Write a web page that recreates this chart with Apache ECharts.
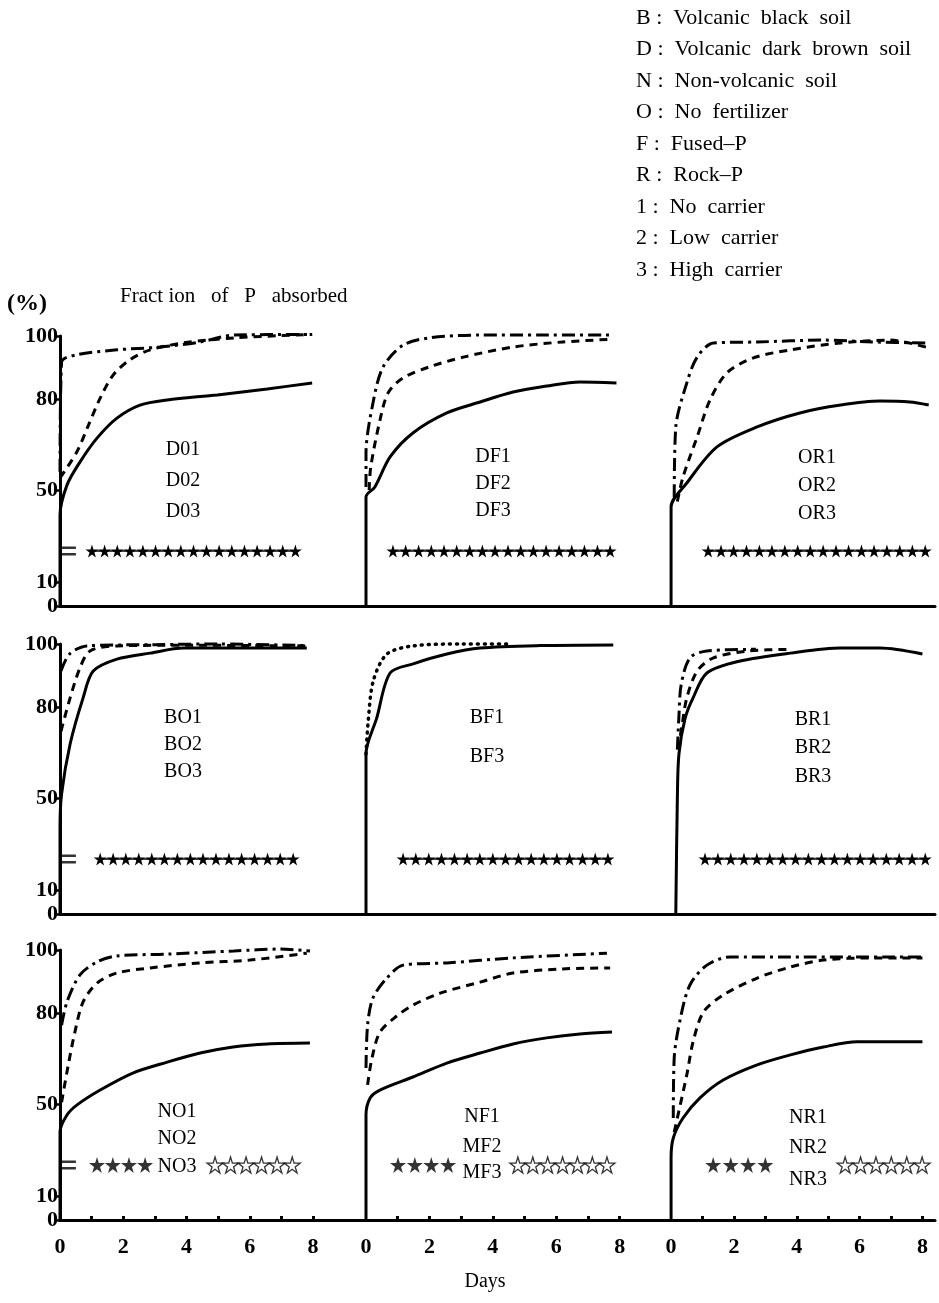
<!DOCTYPE html>
<html>
<head>
<meta charset="utf-8">
<script src="https://cdn.jsdelivr.net/npm/echarts@6/dist/echarts.min.js"></script>
<style>
  html, body { margin: 0; background: #fff; }
  #chart { width: 939px; height: 1303px; }
</style>
</head>
<body>
<div id="chart"></div>
<script>
// y axis is broken between 10 and 50: percent -> axis units (piecewise)
const yTickLabels = [0, 10, 50, 80, 100]
const yTickUnits = [0, 24, 116, 207, 270]
const xTickLabels = [0, 2, 4, 6, 8]
const xTickDays = [1, 2, 3, 4, 5, 6, 7, 8]
const starLevel = 23.5

// [day, % absorbed]
const DO1 = [[0, 0], [0, 39], [0.22, 51.6], [0.63, 59.2], [1.17, 67.1], [1.8, 73.7], [2.53, 78], [3.39, 79.7], [4.97, 81.3], [6.55, 83.2], [7.97, 85.1]]
const DO2 = [[0, 54], [0.53, 62.5], [0.9, 71.4], [1.27, 80.3], [1.68, 87.6], [2.2, 92.4], [2.85, 95.6], [3.9, 97.8], [5.5, 99.4], [7.97, 100.5]]
const DO3 = [[0, 56], [0.05, 91.7], [0.5, 94], [1.8, 95.6], [3.16, 96.5], [4.43, 98.1], [5.5, 100.3], [7.97, 100.5]]

const DF1 = [[0, 0], [0, 47], [0.28, 51], [0.76, 60.9], [1.48, 68.8], [2.55, 75.4], [3.6, 79], [4.64, 82.2], [5.7, 84.1], [6.75, 85.4], [7.9, 85.1]]
const DF2 = [[0.1, 50], [0.15, 57.6], [0.44, 73], [0.7, 82], [1.17, 86.7], [2.0, 90.2], [3.07, 93.3], [4.64, 96.5], [6.2, 98.1], [7.8, 99]]
const DF3 = [[0, 51], [0, 62], [0.22, 78.7], [0.54, 90.2], [1.17, 97.1], [2.0, 99.4], [3.6, 100.3], [5.5, 100.3], [7.8, 100.3]]

const OR1 = [[0, 0], [0, 42.6], [0.5, 52.3], [1.46, 64.2], [2.74, 70.8], [4.1, 75.4], [5.4, 78], [6.65, 79.3], [7.6, 79], [8.2, 78]]
const OR2 = [[0.2, 45], [0.38, 54.3], [0.83, 67.5], [1.24, 79.7], [1.78, 88.3], [2.6, 93], [3.8, 95.6], [5.4, 97.8], [6.97, 98.7], [8.2, 96.2]]
const OR3 = [[0.1, 47], [0.15, 70.8], [0.5, 85.1], [0.83, 93.3], [1.35, 97.8], [2.74, 98.1], [4.85, 98.7], [6.4, 98.1], [8.2, 97.8]]

const BO1 = [[0, 0], [0, 37], [0.05, 51.3], [0.32, 67.8], [0.73, 82.9], [1.05, 91.4], [1.8, 95.2], [2.85, 97.1], [3.9, 98.7], [7.8, 98.7]]
const BO2 = [[0.03, 72], [0.32, 82.9], [0.63, 92.4], [0.95, 97.8], [1.8, 99.4], [4, 99.6], [7.8, 99.4]]
const BO3 = [[0.03, 91.4], [0.3, 96.8], [0.85, 99.4], [3, 99.8], [5, 100], [7.8, 99.5]]

const BF1 = [[0, 0], [0, 64.5], [0.34, 76.4], [0.76, 90.8], [1.49, 93.7], [2.55, 96.8], [3.6, 98.7], [5.5, 99.5], [7.8, 99.7]]
const BF3 = [[0, 64.5], [0.07, 75.4], [0.23, 88.3], [0.66, 96.8], [1.49, 99.4], [3.07, 100], [4.5, 100]]

const BR1 = [[0.15, 0], [0.2, 50], [0.25, 64.5], [0.45, 76.4], [0.7, 82.9], [1.14, 90.8], [2.2, 94.6], [3.8, 97.1], [5.4, 98.7], [6.65, 98.7], [8.0, 96.8]]
const BR2 = [[0.22, 66], [0.35, 74], [0.5, 82.9], [0.83, 91.4], [1.35, 95.6], [2.5, 97.8], [3.8, 98.3]]
const BR3 = [[0.2, 66], [0.25, 77], [0.32, 87], [0.6, 95.6], [1.14, 97.8], [2.7, 98.3]]

const NO1 = [[0, 0], [0, 37.8], [0.22, 45.2], [0.54, 49.6], [1.27, 54.6], [2.3, 60.2], [3.39, 63.8], [4.43, 66.8], [5.47, 68.8], [6.55, 69.8], [7.9, 70.1]]
const NO2 = [[0.05, 50.6], [0.26, 62.8], [0.47, 73.7], [0.73, 83.5], [1.17, 89.5], [1.8, 92.7], [2.85, 94.3], [4.43, 95.9], [6.0, 96.8], [7.8, 99]]
const NO3 = [[0.05, 76], [0.22, 83.5], [0.63, 92.1], [1.17, 96.2], [1.8, 98.1], [3.4, 98.7], [5.5, 99.7], [6.97, 100.3], [7.9, 99.7]]

const NF1 = [[0, 0], [0, 45.2], [0.13, 52], [0.44, 54.6], [1.48, 58.9], [2.55, 63.5], [3.6, 66.8], [4.64, 69.8], [5.7, 71.8], [6.75, 73.1], [7.76, 73.7]]
const NF2 = [[0.05, 56.3], [0.19, 65.2], [0.44, 73.7], [0.97, 79], [1.48, 82.5], [2.34, 86.3], [3.6, 89.8], [4.64, 92.7], [6.2, 94], [7.7, 94.3]]
const NF3 = [[0, 61.9], [0.05, 76], [0.22, 84.8], [0.66, 91.1], [1.17, 95.2], [2.55, 95.9], [4.64, 97.5], [7.6, 99]]

const NR1 = [[0, 0], [0, 26.5], [0.07, 35.2], [0.38, 43.9], [0.92, 52], [1.66, 57.9], [2.74, 62.9], [3.8, 66.2], [4.85, 68.8], [5.92, 70.5], [8.0, 70.5]]
const NR2 = [[0.1, 37.8], [0.5, 59.6], [0.7, 70.5], [1.03, 80.3], [1.66, 85.7], [2.74, 91.1], [3.8, 94.6], [4.85, 96.8], [6.4, 97.5], [8.0, 97.5]]
const NR3 = [[0.07, 43.9], [0.1, 65.2], [0.3, 78.4], [0.6, 88.9], [1.14, 95.2], [1.88, 97.8], [3.8, 97.8], [8.0, 97.8]]

// break-mark stars (days)
const starsDO = [1.01, 1.41, 1.81, 2.21, 2.62, 3.02, 3.42, 3.82, 4.22, 4.63, 5.03, 5.43, 5.83, 6.23, 6.64, 7.04, 7.44]
const starsDF = [0.85, 1.25, 1.66, 2.06, 2.46, 2.86, 3.27, 3.67, 4.07, 4.48, 4.88, 5.28, 5.68, 6.09, 6.49, 6.89, 7.3, 7.7]
const starsOR = [1.18, 1.59, 1.99, 2.4, 2.81, 3.21, 3.62, 4.03, 4.43, 4.84, 5.25, 5.65, 6.06, 6.46, 6.87, 7.28, 7.68, 8.09]
const starsBO = [1.27, 1.68, 2.08, 2.49, 2.9, 3.3, 3.71, 4.12, 4.52, 4.93, 5.34, 5.74, 6.15, 6.56, 6.96, 7.37]
const starsBF = [1.17, 1.57, 1.98, 2.38, 2.79, 3.19, 3.59, 4.0, 4.4, 4.81, 5.21, 5.61, 6.02, 6.42, 6.83, 7.23, 7.63]
const starsBR = [1.08, 1.49, 1.9, 2.32, 2.73, 3.14, 3.55, 3.96, 4.37, 4.79, 5.2, 5.61, 6.02, 6.43, 6.85, 7.26, 7.67, 8.09]
const starsNOa = [1.17, 1.67, 2.18, 2.69]
const starsNOb = [4.9, 5.39, 5.88, 6.37, 6.86, 7.34]
const starsNFa = [1.01, 1.54, 2.06, 2.59]
const starsNFb = [4.79, 5.26, 5.73, 6.2, 6.67, 7.14, 7.6]
const starsNRa = [1.34, 1.9, 2.45, 3.0]
const starsNRb = [5.54, 6.03, 6.52, 7.01, 7.5, 7.99]

const legendLines = [
  'B :  Volcanic  black  soil',
  'D :  Volcanic  dark  brown  soil',
  'N :  Non-volcanic  soil',
  'O :  No  fertilizer',
  'F :  Fused\u2013P',
  'R :  Rock\u2013P',
  '1 :  No  carrier',
  '2 :  Low  carrier',
  '3 :  High  carrier',
]

const toAxis = (p) => {
  for (let i = 1; i < yTickLabels.length; i++) {
    if (p <= yTickLabels[i] || i === yTickLabels.length - 1) {
      const a = yTickLabels[i - 1], b = yTickLabels[i]
      const ua = yTickUnits[i - 1], ub = yTickUnits[i]
      return ua + (p - a) * (ub - ua) / (b - a)
    }
  }
}

const SERIF = '"Liberation Serif", "DejaVu Serif", serif'
const STAR = 'path://M50,0 L61,35 L98,35 L68,57 L79,91 L50,70 L21,91 L32,57 L2,35 L39,35 Z'
const lineTypes = { 1: 'solid', 2: [8, 6], 3: [13, 5, 3, 5], dot: [1, 6] }

const cols = [
  { left: 60, width: 280, min: 0, max: 8.85 },
  { left: 340, width: 305, min: -0.82, max: 8.8 },
  { left: 645, width: 290, min: -0.83, max: 8.4 },
]
const rowTops = [336, 644, 950]
const rowH = 270

const panels = [
  { curves: [[DO1, 1], [DO2, 2], [DO3, 3]], stars: [starsDO], names: ['D01', 'D02', 'D03'], lx: 183, ly: [450, 481, 512] },
  { curves: [[DF1, 1], [DF2, 2], [DF3, 3]], stars: [starsDF], names: ['DF1', 'DF2', 'DF3'], lx: 493, ly: [457, 484, 511] },
  { curves: [[OR1, 1], [OR2, 2], [OR3, 3]], stars: [starsOR], names: ['OR1', 'OR2', 'OR3'], lx: 817, ly: [458, 486, 514] },
  { curves: [[BO1, 1], [BO2, 2], [BO3, 3]], stars: [starsBO], names: ['BO1', 'BO2', 'BO3'], lx: 183, ly: [718, 745, 772] },
  { curves: [[BF1, 1], [BF3, 'dot']], stars: [starsBF], names: ['BF1', 'BF3'], lx: 487, ly: [718, 757] },
  { curves: [[BR1, 1], [BR2, 2], [BR3, 3]], stars: [starsBR], names: ['BR1', 'BR2', 'BR3'], lx: 813, ly: [720, 748, 777] },
  { curves: [[NO1, 1], [NO2, 2], [NO3, 3]], stars: [starsNOa, starsNOb], names: ['NO1', 'NO2', 'NO3'], lx: 177, ly: [1112, 1139, 1167] },
  { curves: [[NF1, 1], [NF2, 2], [NF3, 3]], stars: [starsNFa, starsNFb], names: ['NF1', 'MF2', 'MF3'], lx: 482, ly: [1117, 1147, 1173] },
  { curves: [[NR1, 1], [NR2, 2], [NR3, 3]], stars: [starsNRa, starsNRb], names: ['NR1', 'NR2', 'NR3'], lx: 808, ly: [1118, 1148, 1180] },
]

const grid = [], xAxis = [], yAxis = [], series = [], graphic = []
const yTickPos = yTickLabels.map(toAxis)

panels.forEach((p, i) => {
  const r = Math.floor(i / 3), c = i % 3
  const col = cols[c]
  const bottom = r === 2
  grid.push({ left: col.left, width: col.width, top: rowTops[r], height: rowH })
  xAxis.push({
    gridIndex: i, type: 'value', min: col.min, max: col.max,
    axisLine: { show: true, onZero: false, lineStyle: { color: '#000', width: 3 } },
    splitLine: { show: false },
    axisTick: { show: bottom, inside: true, length: 4, customValues: xTickDays, lineStyle: { color: '#000', width: 3 } },
    axisLabel: {
      show: bottom, customValues: xTickLabels, margin: 16,
      color: '#000', fontFamily: SERIF, fontWeight: 'bold', fontSize: 22,
    },
  })
  yAxis.push({
    gridIndex: i, type: 'value', min: 0, max: yTickUnits[yTickUnits.length - 1],
    show: c === 0,
    axisLine: { show: c === 0, lineStyle: { color: '#000', width: 3 } },
    splitLine: { show: false },
    axisTick: { show: c === 0, length: 4, customValues: yTickPos, lineStyle: { color: '#000', width: 2.5 } },
    axisLabel: {
      show: c === 0, customValues: yTickPos, margin: 2,
      color: '#000', fontFamily: SERIF, fontWeight: 'bold', fontSize: 22,
      formatter: (v) => {
        let k = 0
        yTickPos.forEach((t, j) => { if (Math.abs(t - v) < Math.abs(yTickPos[k] - v)) k = j })
        return String(yTickLabels[k])
      },
    },
  })

  p.curves.forEach(([data, kind]) => {
    series.push({
      type: 'line', xAxisIndex: i, yAxisIndex: i,
      data: data.map(d => [d[0], toAxis(d[1])]),
      showSymbol: false, smooth: 0.3, clip: false, silent: true,
      lineStyle: { color: '#000', width: kind === 'dot' ? 3.5 : 3, type: lineTypes[kind], cap: kind === 'dot' ? 'round' : 'butt' },
    })
  })

  p.stars.forEach((st, k) => {
    const hollow = bottom && k === 1
    series.push({
      type: bottom ? 'scatter' : 'line', xAxisIndex: i, yAxisIndex: i,
      data: st.map(d => [d, toAxis(starLevel)]),
      symbol: STAR, symbolSize: bottom ? 16 : 13, showSymbol: true, silent: true,
      lineStyle: { color: '#000', width: 1.5 },
      itemStyle: { color: hollow ? '#fff' : '#000', borderColor: '#000', borderWidth: hollow ? 1.3 : 0 },
    })
  })

  if (c === 0) {
    // break mark on the y axis
    series.push({
      type: 'scatter', xAxisIndex: i, yAxisIndex: i,
      data: [[0.25, toAxis(starLevel)]],
      symbol: 'path://M0,0 H10 V2 H0 Z M0,5 H10 V7 H0 Z', symbolKeepAspect: false,
      symbolSize: [16, 9], silent: true,
      itemStyle: { color: '#000' },
    })
  }

  p.names.forEach((n, k) => {
    graphic.push({
      type: 'text', x: p.lx, y: p.ly[k],
      style: { text: n, fill: '#000', font: '20px ' + SERIF, align: 'center', verticalAlign: 'middle' },
    })
  })
})

legendLines.forEach((t, k) => {
  graphic.push({
    type: 'text', x: 636, y: 18 + k * 31.5,
    style: { text: t, fill: '#000', font: '22px ' + SERIF, align: 'left', verticalAlign: 'middle' },
  })
})
graphic.push(
  { type: 'text', x: 7, y: 304, style: { text: '(%)', fill: '#000', font: 'bold 24px ' + SERIF, verticalAlign: 'middle' } },
  { type: 'text', x: 120, y: 296, style: { text: 'Fract ion   of   P   absorbed', fill: '#000', font: '21px ' + SERIF, verticalAlign: 'middle' } },
  { type: 'text', x: 485, y: 1282, style: { text: 'Days', fill: '#000', font: '20px ' + SERIF, align: 'center', verticalAlign: 'middle' } },
)

const myChart = echarts.init(document.getElementById('chart'), null, { renderer: 'canvas' })
myChart.setOption({
  backgroundColor: '#fff',
  animation: false,
  grid, xAxis, yAxis, series, graphic,
})
</script>
</body>
</html>
